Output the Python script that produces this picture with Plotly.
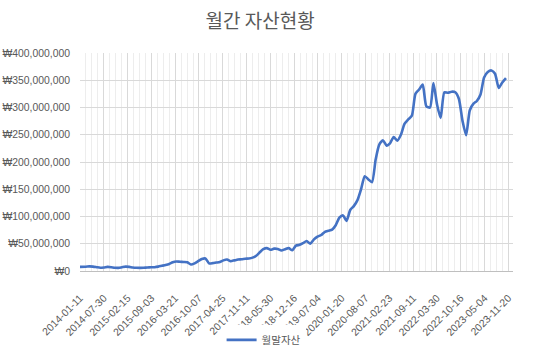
import pandas as pd
import plotly.graph_objects as go

# ---- data (values in millions of KRW) ----
first_date = "2014-01-11"
month_ends = [d.strftime("%Y-%m-%d") for d in pd.date_range("2014-02-28", periods=117, freq="ME")]
dates = [first_date] + month_ends

assets_m = [
    7.5, 7.8, 8.5, 8.0, 7.0, 6.0, 6.5, 7.5, 7.0, 6.0, 5.8, 7.0,          # 2014
    8.0, 7.5, 6.5, 6.0, 5.8, 6.0, 6.5, 6.8, 7.0, 8.0, 9.5, 11.0,         # 2015
    13.0, 16.0, 17.5, 17.0, 16.5, 16.0, 12.0, 14.0, 18.0, 22.0, 23.0, 14.0,  # 2016
    14.5, 15.5, 16.5, 19.5, 21.0, 18.0, 19.5, 21.0, 21.5, 22.5, 23.0, 24.5,  # 2017
    28.0, 34.0, 40.0, 42.0, 39.0, 41.0, 40.5, 37.5, 40.0, 42.0, 38.0, 46.5,  # 2018
    48.0, 51.0, 55.0, 50.0, 58.0, 63.0, 66.0, 72.0, 74.0, 76.0, 84.0, 98.0,  # 2019
    102.0, 92.0, 112.0, 119.0, 130.0, 150.0, 174.0, 168.0, 163.0, 205.0, 232.0, 240.0,  # 2020
    230.0, 234.0, 246.0, 239.0, 250.0, 270.0, 278.0, 285.0, 325.0, 333.0, 342.0, 302.0,  # 2021
    300.0, 345.0, 305.0, 281.0, 328.0, 327.0, 329.0, 328.0, 316.0, 275.0, 249.0, 295.0,  # 2022
    307.0, 312.0, 324.0, 355.0, 365.0, 368.0, 362.0, 336.0, 346.0, 354.0,             # 2023
]
assets = [v * 1_000_000 for v in assets_m]

series_name = "월말자산"
title_text = "월간 자산현황"

x_start = "2014-01-11"
x_end = "2023-12-29"
day_ms = 86400000

fig = go.Figure()
fig.add_trace(go.Scatter(
    x=dates, y=assets, mode="lines", name=series_name,
    line=dict(color="#4472C4", width=2.6, shape="spline", smoothing=0.6),
    showlegend=True,
))

font_main = "Liberation Sans, Noto Sans CJK KR, sans-serif"
tick_size = 10.4
fig.update_layout(
    width=533, height=354,
    margin=dict(l=80, r=20, t=53, b=83, autoexpand=False),
    paper_bgcolor="white", plot_bgcolor="white",
    title=dict(text=title_text, x=0.488, xanchor="center", y=0.94, yanchor="middle",
               font=dict(family="Noto Sans CJK KR, sans-serif", size=19, color="#595959")),
    font=dict(family=font_main, size=tick_size, color="#595959"),
    showlegend=True,
    legend=dict(orientation="h", x=0.424, xanchor="center",
                yref="container", y=0.04, yanchor="middle",
                font=dict(family="Noto Sans CJK KR, sans-serif", size=10.5, color="#595959"),
                itemwidth=30),
    xaxis=dict(
        type="date", range=[x_start, x_end], automargin=False,
        tick0=x_start, dtick=200 * day_ms, tickformat="%Y-%m-%d", tickangle=-45,
        showgrid=True, gridcolor="#d9d9d9", gridwidth=1,
        minor=dict(dtick=50 * day_ms, tick0=x_start, showgrid=True, gridcolor="#ededed", gridwidth=1),
        showline=True, linecolor="#bfbfbf", linewidth=1,
        ticks="outside", ticklen=16, tickcolor="rgba(0,0,0,0)", zeroline=False,
        tickfont=dict(family=font_main, size=tick_size, color="#595959"),
    ),
    yaxis=dict(
        range=[0, 400_000_000], dtick=50_000_000, tickprefix="₩", tickformat=",d",
        automargin=False,
        showgrid=True, gridcolor="#d9d9d9", gridwidth=1,
        showline=False, zeroline=False, ticks="", ticklabelstandoff=9,
        tickfont=dict(family=font_main, size=tick_size, color="#595959"),
    ),
)

fig.write_html("out.html")
